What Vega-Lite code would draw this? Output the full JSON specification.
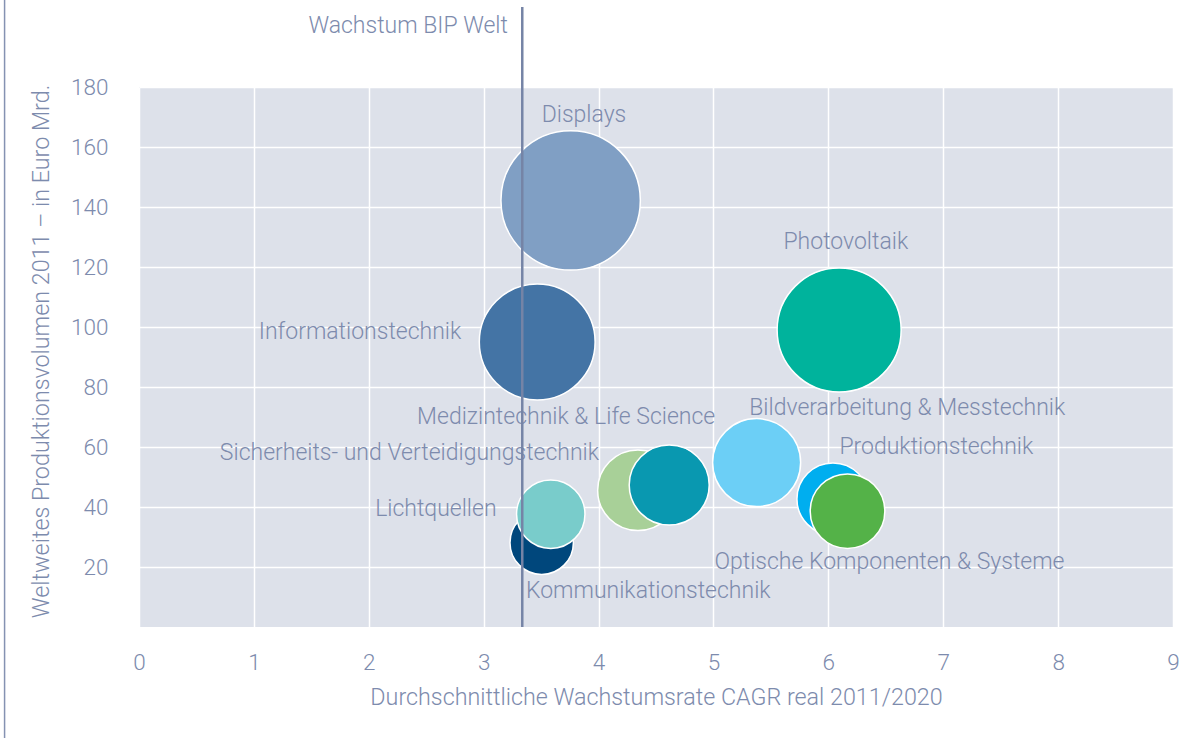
{
  "$schema": "https://vega.github.io/schema/vega-lite/v6.json",
  "width": 1034,
  "height": 540,
  "autosize": {"type": "none"},
  "padding": {"left": 139, "top": 87, "right": 25, "bottom": 111},
  "background": "#ffffff",
  "config": {
    "view": {"fill": "#dde1ea", "stroke": null},
    "font": "Roboto",
    "axis": {
      "domain": false, "ticks": false, "grid": true, "labelFlush": false, "labelOverlap": false,
      "gridColor": "#ffffff", "gridWidth": 1.5, "gridOpacity": 1,
      "labelFont": "Roboto", "labelFontSize": 22.5, "labelFontWeight": 300, "labelColor": "#7d8bad",
      "titleFont": "Roboto", "titleFontSize": 23.3, "titleFontWeight": 300, "titleColor": "#7d8bad"
    },
    "axisX": {"labelPadding": 24, "titleY": 70, "titleBaseline": "middle"},
    "axisY": {"labelPadding": 31, "titleX": -98, "titleY": 264, "titleBaseline": "middle", "titleAngle": -90}
  },
  "datasets": {
    "bereiche": [
      {"bereich": "Displays", "cagr": 3.757, "volumen2011": 142.2, "volumen2020": 194.3, "lx": 3.873, "ly": 170.7},
      {"bereich": "Informationstechnik", "cagr": 3.466, "volumen2011": 95.0, "volumen2020": 134.1, "lx": 1.924, "ly": 98.4},
      {"bereich": "Photovoltaik", "cagr": 6.094, "volumen2011": 99.0, "volumen2020": 153.8, "lx": 6.152, "ly": 128.4},
      {"bereich": "Bildverarbeitung & Messtechnik", "cagr": 5.376, "volumen2011": 54.8, "volumen2020": 77.4, "lx": 6.687, "ly": 73.0},
      {"bereich": "Sicherheits- und Verteidigungstechnik", "cagr": 4.343, "volumen2011": 45.6, "volumen2020": 65.0, "lx": 2.354, "ly": 57.9},
      {"bereich": "Medizintechnik & Life Science", "cagr": 4.615, "volumen2011": 47.3, "volumen2020": 64.0, "lx": 3.718, "ly": 70.1},
      {"bereich": "Produktionstechnik", "cagr": 6.04, "volumen2011": 42.7, "volumen2020": 51.8, "lx": 6.94, "ly": 60.1},
      {"bereich": "Optische Komponenten & Systeme", "cagr": 6.167, "volumen2011": 38.6, "volumen2020": 55.7, "lx": 6.532, "ly": 21.8},
      {"bereich": "Kommunikationstechnik", "cagr": 3.505, "volumen2011": 28.1, "volumen2020": 40.2, "lx": 4.433, "ly": 12.0},
      {"bereich": "Lichtquellen", "cagr": 3.584, "volumen2011": 37.6, "volumen2020": 46.8, "lx": 2.584, "ly": 39.2}
    ],
    "bip": [
      {"label": "Wachstum BIP Welt", "wachstum": 3.336, "von": 0, "bis": 206.7, "lx": 2.343, "ly": 200.3}
    ]
  },
  "layer": [
    {
      "data": {"name": "bereiche"},
      "mark": {"type": "point", "shape": "circle", "filled": true, "opacity": 1, "stroke": "#ffffff", "strokeWidth": 1.5},
      "encoding": {
        "x": {"field": "cagr", "type": "quantitative", "title": "Durchschnittliche Wachstumsrate CAGR real 2011/2020",
              "scale": {"domain": [0, 9], "nice": false, "zero": true},
              "axis": {"values": [0, 1, 2, 3, 4, 5, 6, 7, 8, 9], "format": "d"}},
        "y": {"field": "volumen2011", "type": "quantitative", "title": "Weltweites Produktionsvolumen 2011 – in Euro Mrd.",
              "scale": {"domain": [0, 180], "nice": false},
              "axis": {"values": [20, 40, 60, 80, 100, 120, 140, 160, 180], "format": "d"}},
        "size": {"field": "volumen2020", "type": "quantitative", "legend": null,
                 "scale": {"type": "linear", "domain": [0, 200], "range": [0, 20000], "zero": true}},
        "color": {"field": "bereich", "type": "nominal", "legend": null,
                  "scale": {
                    "domain": ["Displays", "Informationstechnik", "Photovoltaik", "Bildverarbeitung & Messtechnik", "Sicherheits- und Verteidigungstechnik", "Medizintechnik & Life Science", "Produktionstechnik", "Optische Komponenten & Systeme", "Kommunikationstechnik", "Lichtquellen"],
                    "range": ["#809fc4", "#4474a5", "#00b39c", "#6ccff6", "#a8d098", "#0998b0", "#00aeef", "#54b248", "#00477c", "#79cccb"]
                  }}
      }
    },
    {
      "data": {"name": "bereiche"},
      "mark": {"type": "text", "font": "Roboto", "fontSize": 23, "fontWeight": 300, "color": "#7d8bad", "align": "center", "baseline": "middle"},
      "encoding": {
        "x": {"field": "lx", "type": "quantitative", "title": "Durchschnittliche Wachstumsrate CAGR real 2011/2020"},
        "y": {"field": "ly", "type": "quantitative", "title": "Weltweites Produktionsvolumen 2011 – in Euro Mrd."},
        "text": {"field": "bereich"}
      }
    },
    {
      "data": {"name": "bip"},
      "mark": {"type": "rule", "color": "#7584a6", "strokeWidth": 2.5},
      "encoding": {
        "x": {"field": "wachstum", "type": "quantitative", "title": "Durchschnittliche Wachstumsrate CAGR real 2011/2020"},
        "y": {"field": "von", "type": "quantitative", "title": "Weltweites Produktionsvolumen 2011 – in Euro Mrd."},
        "y2": {"field": "bis"}
      }
    },
    {
      "data": {"name": "bip"},
      "mark": {"type": "text", "font": "Roboto", "fontSize": 23, "fontWeight": 300, "color": "#7d8bad", "align": "center", "baseline": "middle"},
      "encoding": {
        "x": {"field": "lx", "type": "quantitative", "title": "Durchschnittliche Wachstumsrate CAGR real 2011/2020"},
        "y": {"field": "ly", "type": "quantitative", "title": "Weltweites Produktionsvolumen 2011 – in Euro Mrd."},
        "text": {"field": "label"}
      }
    },
    {
      "data": {"values": [{"rahmen": -1.17, "von": -40, "bis": 260}]},
      "mark": {"type": "rule", "color": "#8592b2", "strokeWidth": 1.5},
      "encoding": {
        "x": {"field": "rahmen", "type": "quantitative", "title": "Durchschnittliche Wachstumsrate CAGR real 2011/2020"},
        "y": {"field": "von", "type": "quantitative", "title": "Weltweites Produktionsvolumen 2011 – in Euro Mrd."},
        "y2": {"field": "bis"}
      }
    }
  ]
}
